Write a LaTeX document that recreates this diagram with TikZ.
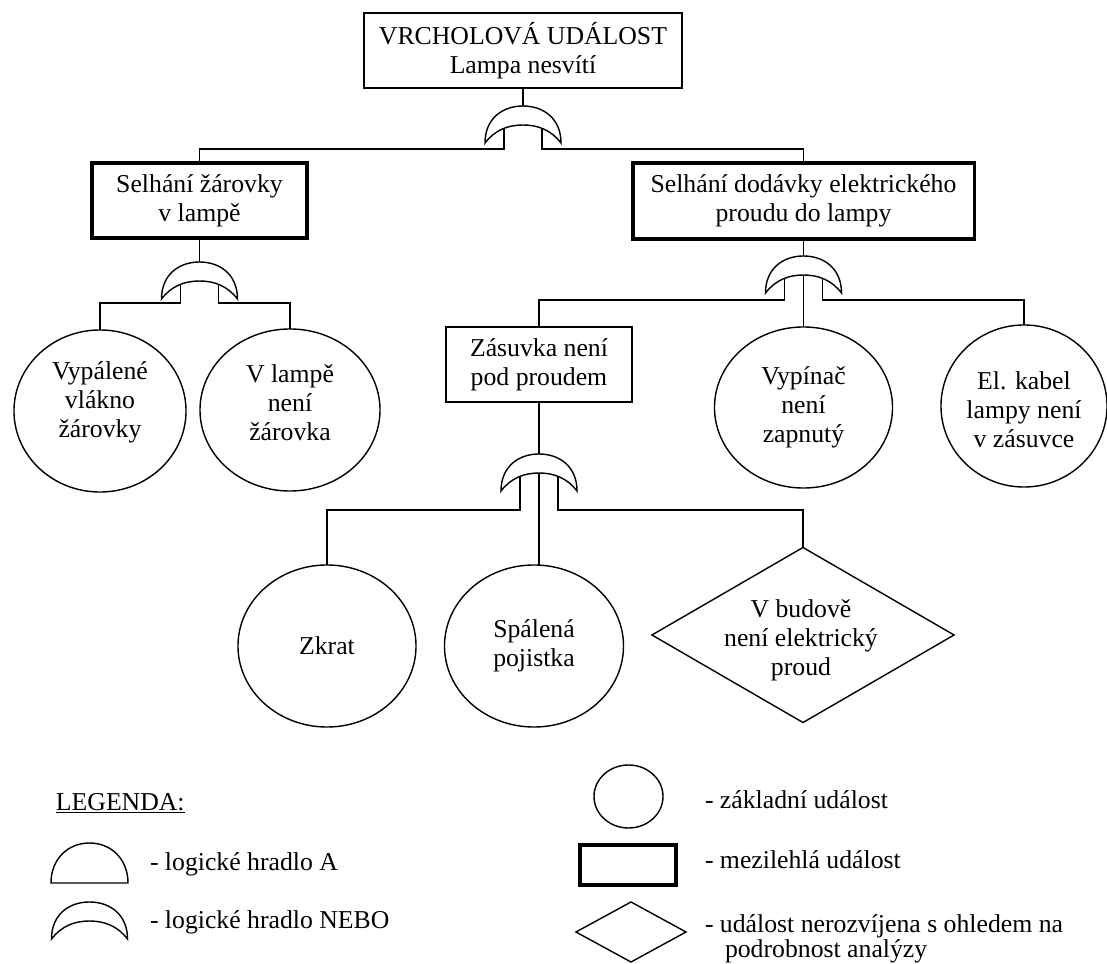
\documentclass[tikz,border=0pt]{standalone}
\usepackage{fontspec}
\setmainfont{Liberation Serif}
\usetikzlibrary{shapes.geometric}
\tikzset{
  every node/.style={font=\fontsize{18.3pt}{20.6pt}\selectfont, inner sep=0pt, outer sep=0pt, align=center},
  conn/.style={line width=1pt},
  thinbox/.style={draw, rectangle, line width=1pt},
  thickbox/.style={draw, rectangle, line width=2.2pt},
  basic/.style={draw, ellipse, line width=1pt},
  undev/.style={draw, diamond, line width=1pt},
  legtext/.style={anchor=base west, align=left},
  orgate/.pic={
    \draw[line width=1pt] (-38,37) .. controls (-38,13) and (-21,0) .. (0,0)
       .. controls (21,0) and (38,13) .. (38,37)
       .. controls (28,24) and (15,19) .. (0,19)
       .. controls (-15,19) and (-28,24) .. (-38,37) -- cycle;
    \coordinate (-top) at (0,0);
    \coordinate (-c) at (0,19);
    \coordinate (-l) at (-19,22);
    \coordinate (-r) at (19,22);
  }
}
\begin{document}
\begin{tikzpicture}[x=0.025cm, y=-0.025cm]
\useasboundingbox (0,0) rectangle (1107,964);

% events
\node[thinbox, minimum width=7.95cm, minimum height=1.875cm] (top) at (523,50.5) {VRCHOLOVÁ UDÁLOST\\Lampa nesvítí};
\node[thickbox, minimum width=5.375cm, minimum height=1.875cm] (left) at (199.5,200.5) {Selhání žárovky\\v lampě};
\node[thickbox, minimum width=8.525cm, minimum height=1.9cm] (right) at (803.5,201) {Selhání dodávky elektrického\\proudu do lampy};
\node[thinbox, minimum width=4.65cm, minimum height=1.875cm] (zas) at (539,364.5) {Zásuvka není\\pod proudem};

\node[basic, minimum width=4.3cm, minimum height=4.05cm] (vyp) at (100,411) {};
\node (vyptext) at (100,402) {Vypálené\\vlákno\\žárovky};
\node[basic, minimum width=4.5cm, minimum height=4.05cm] (lamp) at (290,410) {};
\node (lamptext) at (290,403) {V lampě\\není\\žárovka};
\node[basic, minimum width=4.45cm, minimum height=4.025cm] (vypinac) at (803.5,407.5) {Vypínač\\není\\zapnutý};
\node[basic, minimum width=4.15cm, minimum height=4.05cm] (kabel) at (1024,406) {};
\node (kabeltext) at (1024,410) {El. kabel\\lampy není\\v zásuvce};
\node[basic, minimum width=4.45cm, minimum height=4.05cm] (zkrat) at (327,646) {Zkrat};
\node[basic, minimum width=4.475cm, minimum height=4.05cm] (spalena) at (534,646) {Spálená\\pojistka};
\node[undev, minimum width=7.55cm, minimum height=4.375cm] (diam) at (803,635) {};
\node (dtext) at (801,640) {V budově\\není elektrický\\proud};

% gates
\pic (g1) at (523,106) {orgate};
\pic (g2) at (199.5,262) {orgate};
\pic (g3) at (803.5,256) {orgate};
\pic (g4) at (539,454) {orgate};

% connectors
\draw[conn] (top.south) -- (g1-top);
\draw[conn] (g1-l) -- ++(0,21) -| (left.north);
\draw[conn] (g1-r) -- ++(0,21) -| (right.north);
\draw[conn] (left.south) -- (g2-top);
\draw[conn] (g2-l) -- ++(0,19) -| (vyp.north);
\draw[conn] (g2-r) -- ++(0,19) -| (lamp.north);
\draw[conn] (right.south) -- (g3-top);
\draw[conn] (g3-l) -- ++(0,22) -| (zas.north);
\draw[conn] (g3-c) -- (vypinac.north);
\draw[conn] (g3-r) -- ++(0,22) -| (kabel.north);
\draw[conn] (zas.south) -- (g4-top);
\draw[conn] (g4-l) -- ++(0,34) -| (zkrat.north);
\draw[conn] (g4-c) -- (g4-c |- spalena.north);
\draw[conn] (g4-r) -- ++(0,34) -| (diam.north);

% legend
\node[legtext] (legt) at (56,810) {\underline{LEGENDA:}};
\draw[line width=1pt] (51,883) .. controls (51,859) and (68,843) .. (89.5,843)
   .. controls (111,843) and (128,859) .. (128,883) -- cycle;
\node[legtext] (la) at (150,870) {- logické hradlo A};
\pic (lego) at (89.5,902) {orgate};
\node[legtext] (lo) at (150,928) {- logické hradlo NEBO};
\node[basic, minimum width=1.725cm, minimum height=1.575cm] (lc) at (628.5,796.5) {};
\node[legtext] (lct) at (705,808) {- základní událost};
\node[thickbox, minimum width=2.4cm, minimum height=1cm] (lr) at (628,865) {};
\node[legtext] (lrt) at (705,868) {- mezilehlá událost};
\node[undev, minimum width=2.75cm, minimum height=1.5cm] (ld) at (631,932) {};
\node[legtext] (ldt1) at (705,932) {- událost nerozvíjena s ohledem na};
\node[legtext] (ldt2) at (725,957) {podrobnost analýzy};
\end{tikzpicture}
\end{document}
